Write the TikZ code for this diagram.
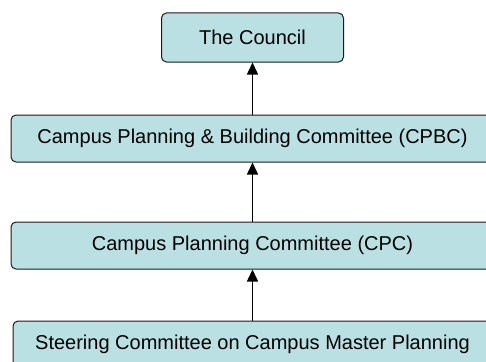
\documentclass[tikz,border=0pt]{standalone}
\usepackage{fontspec}
\setmainfont{Liberation Sans}
\usetikzlibrary{arrows.meta}
\definecolor{boxfill}{HTML}{BBE0E3}
\definecolor{boxline}{HTML}{1A1A1A}
\begin{document}
\begin{tikzpicture}[x=1pt,y=1pt,
  orgbox/.style={draw=boxline, fill=boxfill, line width=1pt, rounded corners=5pt,
    inner sep=0pt, font=\fontsize{20}{24}\selectfont, text=black},
  widebox/.style={orgbox, minimum width=520pt, minimum height=47pt},
  uparrow/.style={line width=1.5pt, -{Triangle[width=11pt,length=12pt]}}]
\useasboundingbox (0,0) rectangle (486,-361);
\clip (0,0) rectangle (486,-361);
\node[orgbox, minimum width=182pt, minimum height=49pt] (council) at (252.5,-37.5) {The Council};
\node[widebox] (cpbc) at (271,-138.5) {\hspace*{-37pt}Campus Planning \& Building Committee (CPBC)};
\node[widebox] (cpc) at (271,-245.5) {\hspace*{-37pt}Campus Planning Committee (CPC)};
\node[widebox] (steer) at (273,-344.5) {\hspace*{-41pt}Steering Committee on Campus Master Planning};
\draw[uparrow] (council.south |- cpbc.north) -- (council.south);
\draw[uparrow] (council.south |- cpc.north) -- (council.south |- cpbc.south);
\draw[uparrow] (council.south |- steer.north) -- (council.south |- cpc.south);
\end{tikzpicture}
\end{document}
